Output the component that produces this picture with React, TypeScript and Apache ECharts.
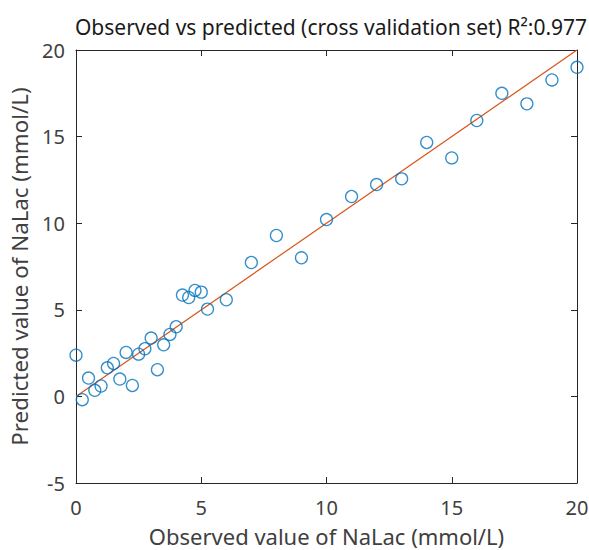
import React, { useEffect, useRef } from "react";
import * as echarts from "echarts";

const observed = [0, 0.25, 0.5, 0.75, 1, 1.25, 1.5, 1.75, 2, 2.25, 2.5, 2.75, 3, 3.25, 3.5, 3.75, 4, 4.25, 4.5, 4.75, 5, 5.25, 6, 7, 8, 9, 10, 11, 12, 13, 14, 15, 16, 17, 18, 19, 20];
const predicted = [2.38, -0.19, 1.06, 0.35, 0.6, 1.65, 1.9, 1.0, 2.54, 0.63, 2.44, 2.75, 3.37, 1.54, 2.98, 3.58, 4.02, 5.85, 5.71, 6.12, 6.02, 5.04, 5.58, 7.73, 9.29, 8.0, 10.21, 11.54, 12.23, 12.56, 14.66, 13.77, 15.93, 17.5, 16.89, 18.27, 19.0];
const fitLine = [[0, 0], [20, 20]];
const titleText = "Observed vs predicted (cross validation set) R²:0.977";
const xName = "Observed value of NaLac (mmol/L)";
const yName = "Predicted value of NaLac (mmol/L)";

export default function App() {
  const ref = useRef<HTMLDivElement>(null);
  useEffect(() => {
    if (!ref.current) return;
    const chart = echarts.init(ref.current, null, { renderer: "svg" });
    const font = "'Noto Sans', sans-serif";
    const axisColor = "#262626";
    const labelColor = "#404040";
    const baseAxis = {
      min: 0,
      max: 20,
      interval: 5,
      axisLine: { show: true, onZero: false, lineStyle: { color: axisColor, width: 1 } },
      axisTick: { show: true, inside: true, length: 6, lineStyle: { color: axisColor } },
      splitLine: { show: false },
    };
    chart.setOption({
      animation: false,
      backgroundColor: "#ffffff",
      title: {
        text: titleText,
        left: 326,
        textAlign: "center",
        top: 11,
        textStyle: { fontFamily: font, fontSize: 21, fontWeight: "normal", color: "#1a1a1a" },
      },
      grid: { left: 76, right: 12, top: 50, bottom: 67, containLabel: false, outerBoundsMode: "none" },
      xAxis: [
        {
          ...baseAxis,
          type: "value",
          position: "bottom",
          name: xName,
          nameLocation: "middle",
          nameGap: 41,
          nameTextStyle: { fontFamily: font, fontSize: 22, lineHeight: 24, color: labelColor },
          axisLabel: { fontFamily: font, fontSize: 20, color: labelColor, margin: 14 },
        },
        {
          ...baseAxis,
          type: "value",
          position: "top",
          axisLabel: { show: false },
        },
      ],
      yAxis: [
        {
          ...baseAxis,
          type: "value",
          min: -5,
          max: 20,
          position: "left",
          name: yName,
          nameLocation: "middle",
          nameGap: 46,
          nameTextStyle: { fontFamily: font, fontSize: 22.3, color: labelColor },
          axisLabel: { fontFamily: font, fontSize: 20, color: labelColor, margin: 11, padding: [4, 0, 0, 0] },
        },
        {
          ...baseAxis,
          type: "value",
          min: -5,
          max: 20,
          position: "right",
          axisLabel: { show: false },
        },
      ],
      series: [
        {
          type: "line",
          data: fitLine,
          symbol: "none",
          lineStyle: { color: "#D95319", width: 1.2 },
          z: 2,
        },
        {
          type: "scatter",
          data: observed.map((x, i) => [x, predicted[i]]),
          symbol: "circle",
          symbolSize: 12,
          itemStyle: { color: "rgba(255,255,255,0)", borderColor: "#0072BD", borderWidth: 1.3 },
          z: 3,
        },
      ],
    });
    return () => chart.dispose();
  }, []);
  return <div ref={ref} style={{ width: 589, height: 550, position: "absolute", left: 0, top: 0 }} />;
}
